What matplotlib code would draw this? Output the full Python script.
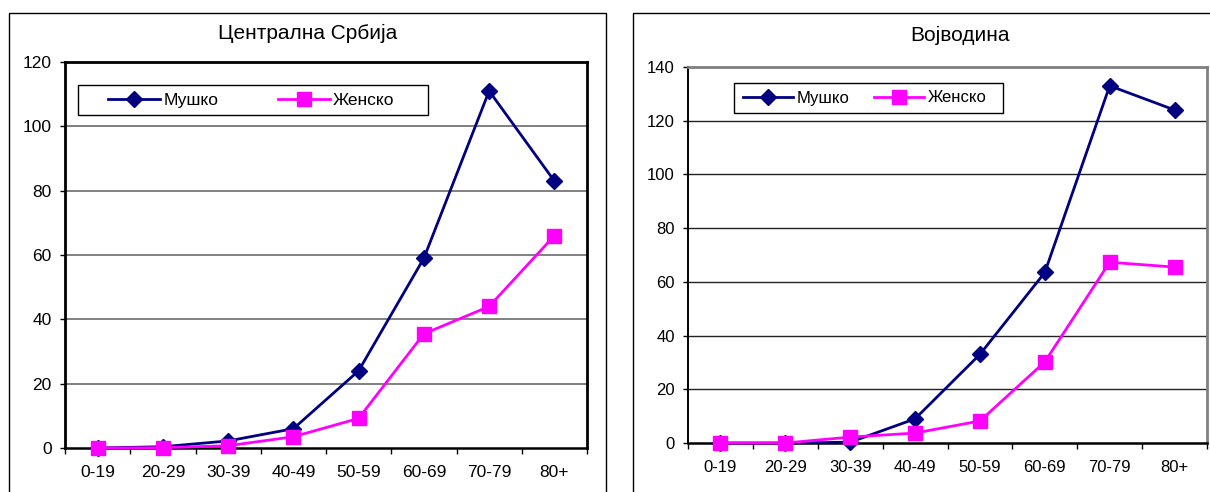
import matplotlib
matplotlib.use("Agg")
import matplotlib.pyplot as plt
from matplotlib.patches import Rectangle

plt.rcParams['font.family'] = ['Liberation Sans', 'DejaVu Sans']

AGE_GROUPS = ["0-19", "20-29", "30-39", "40-49", "50-59", "60-69", "70-79", "80+"]

# Централна Србија
CS_MALE = [0, 0.4, 2.2, 6, 24, 59, 111, 83]
CS_FEMALE = [0, 0.1, 0.7, 3.5, 9.2, 35.5, 44, 66]

# Војводина
VO_MALE = [0, 0, 0.3, 9, 33, 63.5, 133, 124]
VO_FEMALE = [0, 0, 2.2, 3.7, 8.2, 30.2, 67.3, 65.5]

SERIES_LABELS = ["Мушко", "Женско"]
MALE_COLOR = "#000080"
FEMALE_COLOR = "#FF00FF"

W, H = 1210, 492


def fig_rect(left, top, right, bottom):
    # pixel box -> figure fraction [x, y, w, h]
    return [left / W, 1 - bottom / H, (right - left) / W, (bottom - top) / H]


def draw_panel(fig, box, frame, title, title_xy, male, female, ymax,
               leg_box, leg_start, colspacing, fs, grid_color, grid_lw,
               frame_color, left_lw):
    # outer chart border (runs off the bottom of the image)
    fl, ft, fr = frame
    fig.patches.append(Rectangle((fl / W, -0.1), (fr - fl) / W, 1.1 - ft / H,
                                 transform=fig.transFigure, fill=False,
                                 edgecolor="black", linewidth=1.0))

    ax = fig.add_axes(fig_rect(*box))
    x = range(len(AGE_GROUPS))
    ax.plot(x, male, color=MALE_COLOR, linewidth=2.0, marker="D",
            markersize=8.3, label=SERIES_LABELS[0], zorder=3, clip_on=False)
    ax.plot(x, female, color=FEMALE_COLOR, linewidth=2.0, marker="s",
            markersize=10, label=SERIES_LABELS[1], zorder=4, clip_on=False)

    ax.set_xlim(-0.5, len(AGE_GROUPS) - 0.5)
    ax.set_ylim(0, ymax)
    ax.set_yticks(range(0, ymax + 1, 20))
    ax.set_xticks(list(x))
    ax.set_xticklabels(AGE_GROUPS)
    ax.set_xticks([i - 0.5 for i in range(len(AGE_GROUPS) + 1)], minor=True)
    ax.tick_params(axis="x", which="major", length=0, pad=12, labelsize=fs)
    ax.tick_params(axis="x", which="minor", length=4, width=1, direction="out")
    ax.tick_params(axis="y", length=3.6, width=1, direction="out", pad=6,
                   labelsize=fs)

    for y in range(20, ymax, 20):
        ax.axhline(y, color=grid_color, linewidth=grid_lw, zorder=1)

    for side in ("top", "right"):
        ax.spines[side].set_color(frame_color)
        ax.spines[side].set_linewidth(2)
    ax.spines["left"].set_linewidth(left_lw)
    ax.spines["bottom"].set_linewidth(1.8)

    fig.text(title_xy[0] / W, 1 - title_xy[1] / H, title, ha="center",
             va="center", fontsize=15)

    # legend frame
    bl, bt, br, bb = leg_box
    ax.add_patch(Rectangle((bl / W, 1 - bb / H), (br - bl) / W, (bb - bt) / H,
                           transform=fig.transFigure, facecolor="white",
                           edgecolor="black", linewidth=1.0, zorder=4.5,
                           clip_on=False))
    ax.legend(loc="center left",
              bbox_to_anchor=(leg_start / W, 1 - (bt + bb) / 2 / H),
              bbox_transform=fig.transFigure, ncol=2, frameon=False,
              borderaxespad=0, borderpad=0, handlelength=3.0,
              handletextpad=0.2, columnspacing=colspacing, fontsize=fs)
    return ax


fig = plt.figure(figsize=(W / 100, H / 100), dpi=100)

draw_panel(fig, (65, 62, 587, 448), (9, 13, 606), "Централна Србија",
           (308, 33), CS_MALE, CS_FEMALE, 120, (78, 85, 428, 115), 108, 3.4,
           12.5, "#808080", 1.4, "black", 2.0)
draw_panel(fig, (688, 67, 1207, 443), (633, 13, 1212), "Војводина",
           (960, 35), VO_MALE, VO_FEMALE, 140, (734, 83, 1003, 113), 743, 1.5,
           12, "#222222", 1.0, "#808080", 1.4)

fig.savefig("out.png", dpi=100)
